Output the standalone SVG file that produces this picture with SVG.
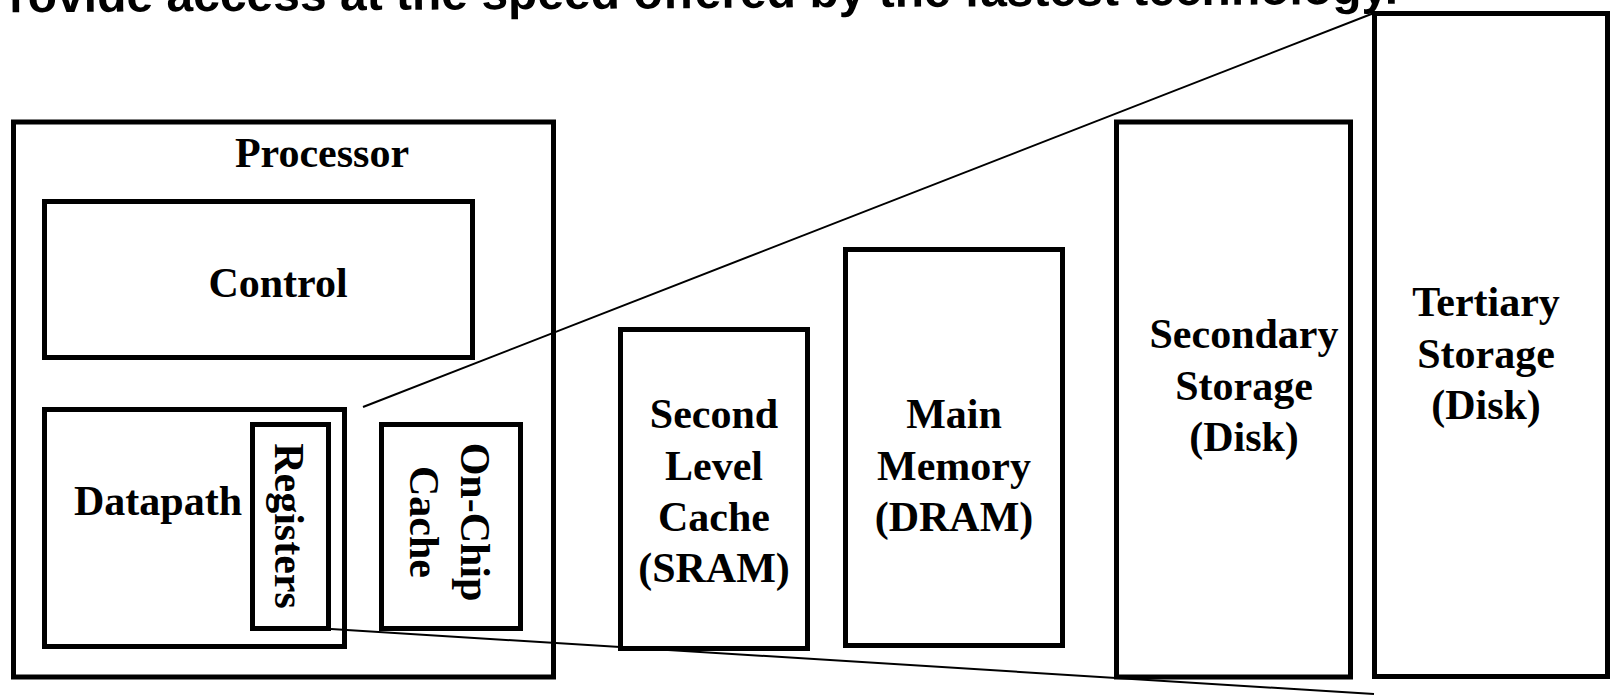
<svg xmlns="http://www.w3.org/2000/svg" width="1617" height="696" viewBox="0 0 1617 696">
<style>
.box{fill:none;stroke:#000;stroke-width:5}
.lbl{font-family:"Liberation Serif","Times New Roman",serif;font-weight:bold;font-size:42px;fill:#000;text-anchor:middle}
.head{font-family:"Liberation Sans",Arial,sans-serif;font-weight:bold;font-size:48px;fill:#000;text-anchor:end}
.conn{stroke:#000;stroke-width:2;fill:none}
</style>
<rect width="1617" height="696" fill="#fff"/>
<text class="head" x="1398" y="8" transform="rotate(-0.35 700 8)">Provide access at the speed offered by the fastest technology.</text>
<g id="processor">
<rect class="box" x="13.5" y="122" width="540" height="555"/>
<text class="lbl" x="322" y="167">Processor</text>
</g>
<g id="control">
<rect class="box" x="44.5" y="201.5" width="428" height="156"/>
<text class="lbl" x="278" y="297">Control</text>
</g>
<g id="datapath">
<rect class="box" x="44.5" y="409.5" width="300" height="237"/>
<text class="lbl" x="158" y="515">Datapath</text>
</g>
<g id="registers">
<rect class="box" x="252.5" y="424.5" width="76" height="204"/>
<text class="lbl" transform="translate(275 526) rotate(90)">Registers</text>
</g>
<g id="onchip-cache">
<rect class="box" x="381.5" y="424.5" width="139" height="204"/>
<text class="lbl" transform="translate(461 522) rotate(90)">On-Chip</text>
<text class="lbl" transform="translate(410 522) rotate(90)">Cache</text>
</g>
<g id="second-level-cache">
<rect class="box" x="620.5" y="329.5" width="187" height="319"/>
<text class="lbl" x="714" y="428">Second</text>
<text class="lbl" x="714" y="480">Level</text>
<text class="lbl" x="714" y="531">Cache</text>
<text class="lbl" x="714" y="582">(SRAM)</text>
</g>
<g id="main-memory">
<rect class="box" x="845.5" y="249.5" width="217" height="396"/>
<text class="lbl" x="954" y="428">Main</text>
<text class="lbl" x="954" y="480">Memory</text>
<text class="lbl" x="954" y="531">(DRAM)</text>
</g>
<g id="secondary-storage">
<rect class="box" x="1116.5" y="122" width="234" height="555"/>
<text class="lbl" x="1244" y="348">Secondary</text>
<text class="lbl" x="1244" y="400">Storage</text>
<text class="lbl" x="1244" y="451">(Disk)</text>
</g>
<g id="tertiary-storage">
<rect class="box" x="1374.5" y="13.5" width="233" height="663"/>
<text class="lbl" x="1486" y="316">Tertiary</text>
<text class="lbl" x="1486" y="368">Storage</text>
<text class="lbl" x="1486" y="419">(Disk)</text>
</g>
<g id="connectors">
<line class="conn" x1="363" y1="407" x2="1374" y2="13"/>
<line class="conn" x1="331" y1="629" x2="1374" y2="694"/>
</g>
</svg>
